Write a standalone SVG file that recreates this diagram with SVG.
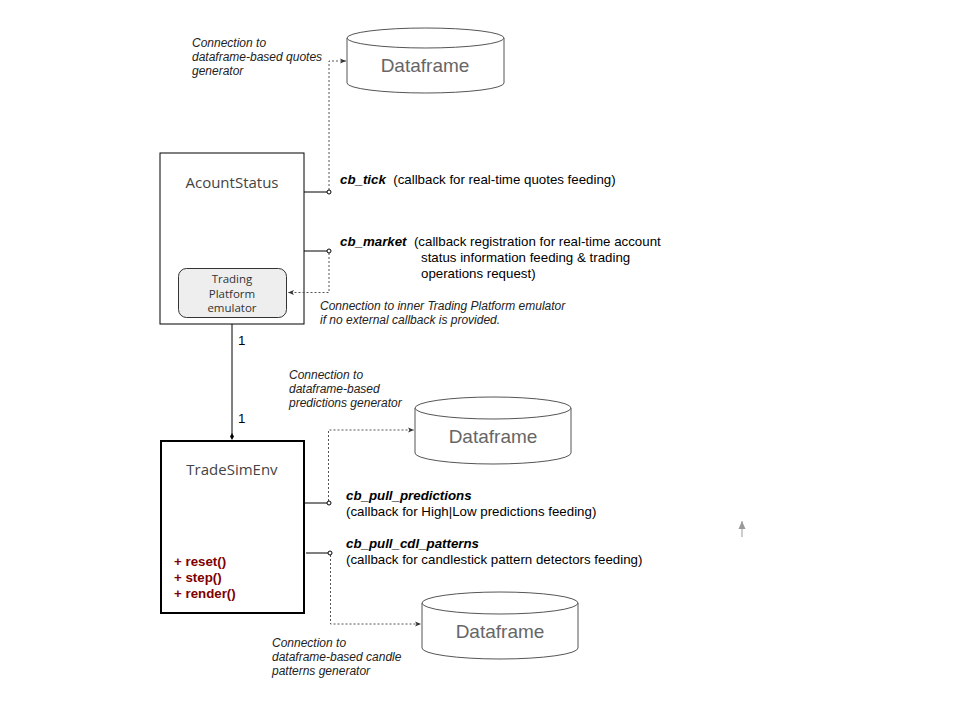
<svg xmlns="http://www.w3.org/2000/svg" width="960" height="720" viewBox="0 0 960 720">
<defs>
<marker id="arr" viewBox="0 0 6 6" refX="6" refY="3" markerWidth="6" markerHeight="6" orient="auto" markerUnits="userSpaceOnUse">
<path d="M0,0.5 L6,3 L0,5.5 L1.5,3 Z" fill="#333"/>
</marker>
<marker id="arrg" viewBox="0 0 8 8" refX="8" refY="4" markerWidth="8" markerHeight="8" orient="auto" markerUnits="userSpaceOnUse">
<path d="M0,0.5 L8,4 L0,7.5 Z" fill="#999"/>
</marker>
<style>
.box{fill:#fff;stroke:#000;stroke-width:1}
.thick{fill:#fff;stroke:#000;stroke-width:2}
.inner{fill:#eeeeee;stroke:#333;stroke-width:1}
.cyl{fill:#fff;stroke:#555;stroke-width:1}
.title{font-family:"Open Sans","Noto Sans",sans-serif;font-size:15px;fill:#444;text-anchor:middle}
.df{font-family:"Liberation Sans",Arial,sans-serif;font-size:19px;fill:#666;text-anchor:middle}
.small{font-family:"Open Sans","Noto Sans",sans-serif;font-size:11.5px;fill:#333;text-anchor:middle}
.lbl{font-family:"Liberation Sans",Arial,sans-serif;font-size:13.3px;fill:#000}
.cb{font-weight:bold;font-style:italic}
.note{font-family:"Liberation Sans",Arial,sans-serif;font-size:12px;font-style:italic;fill:#222}
.meth{font-family:"Liberation Sans",Arial,sans-serif;font-size:13.3px;font-weight:bold;fill:#7f0000}
.solid{fill:none;stroke:#000;stroke-width:1}
.dot{fill:none;stroke:#555;stroke-width:1;stroke-dasharray:2,2}
.end{fill:#fff;stroke:#000;stroke-width:1}
</style>
</defs>

<g id="df-quotes">
<path class="cyl" d="M347,38 L347,83 A78.5,10 0 0 0 504,83 L504,38"/>
<ellipse class="cyl" cx="425.5" cy="38" rx="78.5" ry="10"/>
<text class="df" x="425" y="72">Dataframe</text>
</g>

<g id="df-predictions">
<path class="cyl" d="M415,408 L415,453 A78,11 0 0 0 571,453 L571,408"/>
<ellipse class="cyl" cx="493" cy="408" rx="78" ry="11"/>
<text class="df" x="493" y="443">Dataframe</text>
</g>

<g id="df-patterns">
<path class="cyl" d="M422,603 L422,648 A78,11 0 0 0 578,648 L578,603"/>
<ellipse class="cyl" cx="500" cy="603" rx="78" ry="11"/>
<text class="df" x="500" y="638">Dataframe</text>
</g>

<g id="acount-status">
<rect class="box" x="160" y="153" width="144" height="171"/>
<text class="title" x="232" y="188">AcountStatus</text>
<g id="trading-platform-emulator">
<rect class="inner" x="178.500" y="268.500" width="108" height="49" rx="8" ry="8"/>
<text class="small" x="232" y="283">Trading</text>
<text class="small" x="232" y="297.500">Platform</text>
<text class="small" x="232" y="312">emulator</text>
</g>
</g>

<g id="trade-sim-env">
<rect class="thick" x="161" y="441" width="143" height="172"/>
<text class="title" x="232" y="475">TradeSimEnv</text>
<text class="meth" x="174" y="566">+ reset()</text>
<text class="meth" x="174" y="582">+ step()</text>
<text class="meth" x="174" y="598">+ render()</text>
</g>

<g id="connectors">
<line class="solid" x1="232" y1="324" x2="232" y2="437"/>
<path d="M232,433 L234,436.500 L232,440 L230,436.500 Z" fill="#000"/>

<line class="solid" x1="304" y1="192" x2="327" y2="192"/>
<path class="dot" d="M329,190 L329,61 L346,61" marker-end="url(#arr)"/>
<circle class="end" cx="329" cy="192" r="2"/>

<line class="solid" x1="304" y1="251" x2="327" y2="251"/>
<path class="dot" d="M329,253 L329,292.500 L288,292.500" marker-end="url(#arr)"/>
<circle class="end" cx="329" cy="251" r="2"/>

<line class="solid" x1="304" y1="503" x2="327" y2="503"/>
<path class="dot" d="M328.500,501 L328.500,430 L414,430" marker-end="url(#arr)"/>
<circle class="end" cx="329" cy="503" r="2"/>

<line class="solid" x1="306" y1="553" x2="328" y2="553"/>
<path class="dot" d="M330.500,555 L330.500,624 L421,624" marker-end="url(#arr)"/>
<circle class="end" cx="330" cy="553" r="2"/>

<line x1="742" y1="537" x2="742" y2="521" stroke="#999" stroke-width="1" marker-end="url(#arrg)"/>
</g>

<g id="labels">
<text class="lbl" x="238" y="345">1</text>
<text class="lbl" x="238" y="423">1</text>

<text class="note" x="192" y="47">Connection to</text>
<text class="note" x="192" y="61">dataframe-based quotes</text>
<text class="note" x="192" y="75">generator</text>

<text class="lbl" x="340" y="184"><tspan class="cb">cb_tick</tspan>&#160; (callback for real-time quotes feeding)</text>

<text class="lbl" x="340" y="246"><tspan class="cb">cb_market</tspan>&#160; (callback registration for real-time account</text>
<text class="lbl" x="421" y="262">status information feeding &amp; trading</text>
<text class="lbl" x="421" y="278">operations request)</text>

<text class="note" x="320" y="310">Connection to inner Trading Platform emulator</text>
<text class="note" x="320" y="324">if no external callback is provided.</text>

<text class="note" x="289" y="379">Connection to</text>
<text class="note" x="289" y="393">dataframe-based</text>
<text class="note" x="289" y="407">predictions generator</text>

<text class="lbl cb" x="346" y="500">cb_pull_predictions</text>
<text class="lbl" x="346" y="516">(callback for High|Low predictions feeding)</text>
<text class="lbl cb" x="346" y="548">cb_pull_cdl_patterns</text>
<text class="lbl" x="346" y="564">(callback for candlestick pattern detectors feeding)</text>

<text class="note" x="272" y="647">Connection to</text>
<text class="note" x="272" y="661">dataframe-based candle</text>
<text class="note" x="272" y="675">patterns generator</text>
</g>
</svg>
